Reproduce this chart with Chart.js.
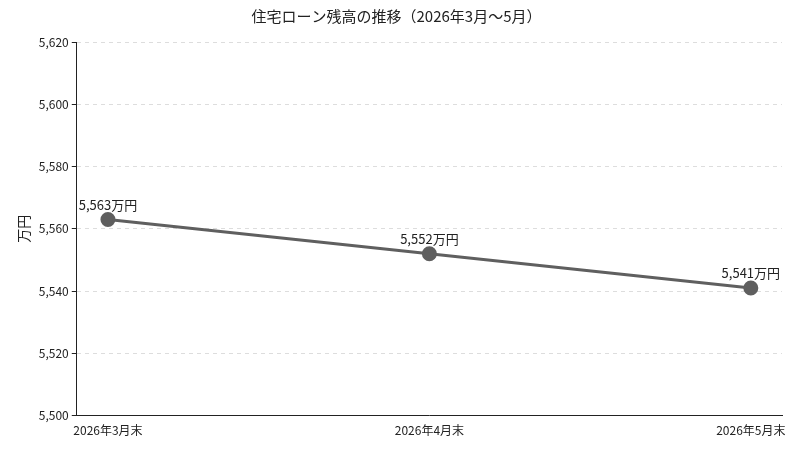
<!DOCTYPE html>
<html><head><meta charset="utf-8">
<script src="https://cdn.jsdelivr.net/npm/chart.js@4"></script>
<style>html,body{margin:0;background:#fff}#wrap{width:800px;height:449px}</style>
</head><body><div id="wrap"><canvas id="c"></canvas></div>
<script>
const categories = ['2026年3月末', '2026年4月末', '2026年5月末'];
const balances = [5563, 5552, 5541];
const yTicks = [5500, 5520, 5540, 5560, 5580, 5600, 5620];

Chart.defaults.font.family = '"Noto Sans CJK JP", "Noto Sans", sans-serif';
Chart.defaults.color = '#222';

// 値ラベル
const valueLabels = {
  id: 'valueLabels',
  afterDatasetsDraw(chart) {
    const ctx = chart.ctx;
    const meta = chart.getDatasetMeta(0);
    ctx.save();
    ctx.font = '13px "Noto Sans CJK JP", sans-serif';
    ctx.fillStyle = '#222';
    ctx.textAlign = 'center';
    ctx.textBaseline = 'bottom';
    meta.data.forEach((pt, i) => {
      ctx.fillText(balances[i].toLocaleString('en-US') + '万円', pt.x, pt.y - 8);
    });
    ctx.restore();
  }
};

new Chart(document.getElementById('c'), {
  type: 'line',
  data: {
    datasets: [{
      data: balances.map((v, i) => ({ x: i, y: v })),
      borderColor: '#5f5f5f',
      backgroundColor: '#5f5f5f',
      borderWidth: 3,
      pointRadius: 6,
      pointHoverRadius: 6
    }]
  },
  options: {
    responsive: true,
    maintainAspectRatio: false,
    animation: false,
    layout: { padding: { left: 11, right: 18, top: 0, bottom: 8 } },
    plugins: {
      legend: { display: false },
      tooltip: { enabled: false },
      title: {
        display: true,
        text: '住宅ローン残高の推移（2026年3月〜5月）',
        font: { size: 15, weight: 'normal' },
        color: '#222',
        padding: { top: 7, bottom: 17 }
      }
    },
    scales: {
      x: {
        type: 'linear',
        min: -0.097,
        max: 2.097,
        afterBuildTicks: s => { s.ticks = categories.map((_, i) => ({ value: i })); },
        ticks: { callback: v => categories[v], font: { size: 12 }, color: '#222', maxRotation: 0 },
        grid: { display: false, drawTicks: true, tickLength: 5, color: '#222' },
        border: { color: '#222' }
      },
      y: {
        min: 5500,
        max: 5620,
        afterBuildTicks: s => { s.ticks = yTicks.map(v => ({ value: v })); },
        ticks: { callback: v => v.toLocaleString('en-US'), font: { size: 12 }, color: '#222' },
        grid: { color: '#dddddd', tickLength: 5, tickColor: '#222' },
        border: { color: '#222', dash: [4, 4] },
        title: { display: true, text: '万円', font: { size: 14 }, color: '#222' }
      }
    }
  },
  plugins: [valueLabels]
});
</script></body></html>
